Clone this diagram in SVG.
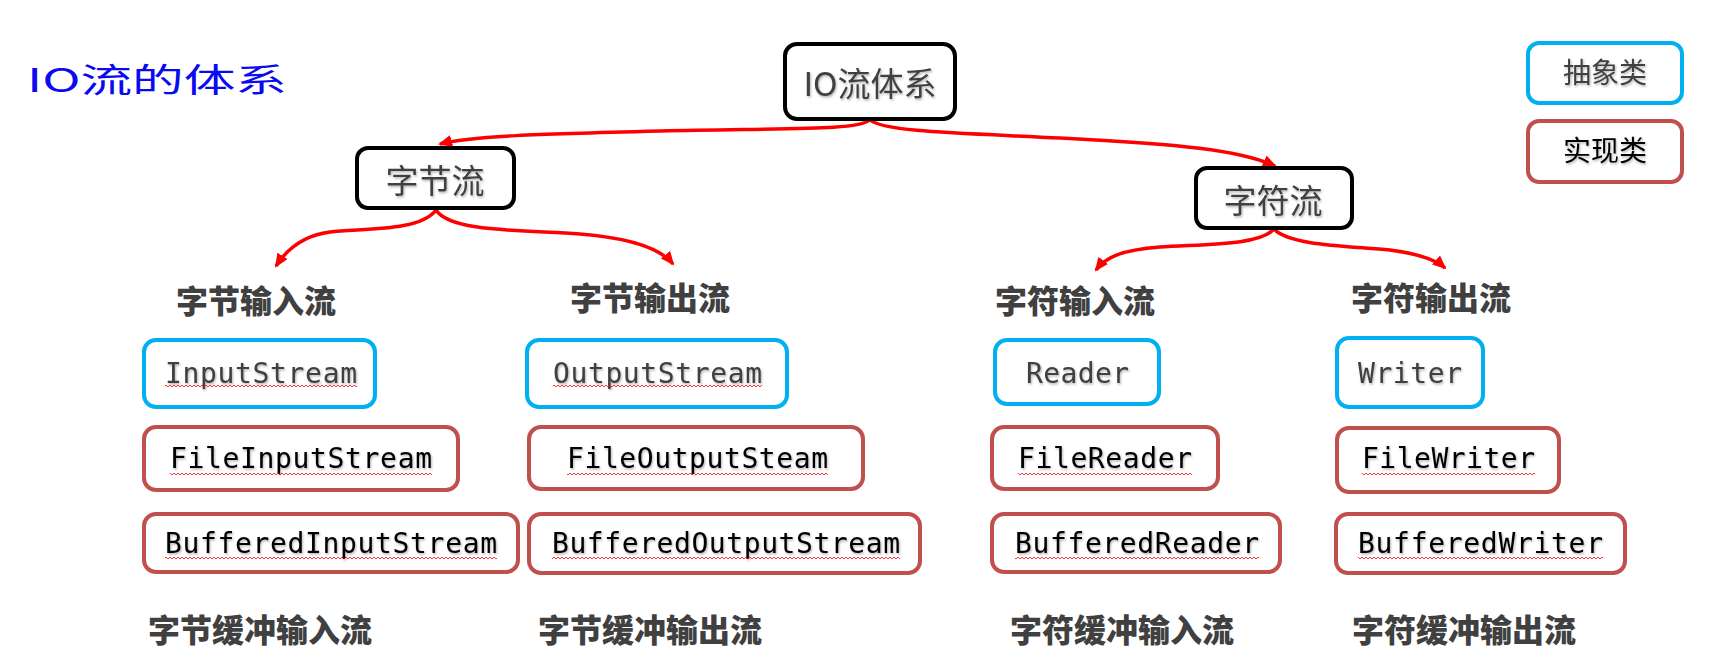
<svg xmlns="http://www.w3.org/2000/svg" width="1725" height="663" viewBox="0 0 1725 663">
<style>
.box{fill:#fff;stroke-width:4}
.blk{stroke:#000}
.abs{stroke:#00b0f0}
.imp{stroke:#c0504d}
.cjk{font-family:"Noto Sans CJK SC","Noto Sans",sans-serif}
.node{font-size:33px;fill:#404040;text-anchor:middle}
.leg{font-size:28px;fill:#404040;text-anchor:middle}
.lbl{font-size:32px;font-weight:900;fill:#404040;text-anchor:middle}
.mono{font-family:"DejaVu Sans Mono","Liberation Mono",monospace;font-size:28px}
.absT{fill:#404040}
.impT{fill:#000}
.conn{fill:none;stroke:#ff0000;stroke-width:3.5;marker-end:url(#arr)}
</style>
<defs>
<marker id="arr" markerUnits="userSpaceOnUse" markerWidth="14" markerHeight="12" refX="12" refY="6" orient="auto" viewBox="0 0 14 12">
<path d="M0,0 L14,6 L0,12 z" fill="#ff0000"/>
</marker>
<pattern id="sq" width="4" height="4" patternUnits="userSpaceOnUse">
<path d="M0,3 L2,1 L4,3" fill="none" stroke="#ff0000" stroke-width="0.8"/>
</pattern>
<filter id="sh" x="-10%" y="-10%" width="120%" height="130%">
<feDropShadow dx="1" dy="1.5" stdDeviation="1" flood-color="#000" flood-opacity="0.3"/>
</filter>
</defs>
<rect width="1725" height="663" fill="#fff"/>

<text id="title" x="27" y="92" class="cjk" font-size="33" fill="#0a0af0" textLength="260" lengthAdjust="spacingAndGlyphs">IO流的体系</text>

<g id="connectors">
<path class="conn" d="M870,120 C858,130 800,128 660,131 C540,134 470,136 440,144"/>
<path class="conn" d="M870,120 C885,132 960,133 1060,138 C1180,144 1240,150 1275,166"/>
<path class="conn" d="M436,210 C420,232 360,228 330,232 C300,236 285,252 276,266"/>
<path class="conn" d="M436,210 C450,232 520,230 580,234 C630,238 660,248 673,264"/>
<path class="conn" d="M1274,229 C1260,246 1200,244 1160,247 C1120,250 1105,258 1096,270"/>
<path class="conn" d="M1274,229 C1290,246 1350,246 1390,250 C1420,254 1436,260 1445,268"/>
</g>

<g id="root">
<rect class="box blk" x="785" y="44" width="170" height="75" rx="12"/>
<text class="cjk node" x="870" y="96" filter="url(#sh)">IO流体系</text>
</g>
<g id="byteStream">
<rect class="box blk" x="357" y="148" width="157" height="60" rx="11"/>
<text class="cjk node" x="435" y="193" filter="url(#sh)">字节流</text>
</g>
<g id="charStream">
<rect class="box blk" x="1196" y="168" width="156" height="60" rx="11"/>
<text class="cjk node" x="1273" y="213" filter="url(#sh)">字符流</text>
</g>

<g id="legendAbstract">
<rect class="box abs" x="1528" y="43" width="154" height="60" rx="11"/>
<text class="cjk leg" x="1605" y="83" filter="url(#sh)">抽象类</text>
</g>
<g id="legendImpl">
<rect class="box imp" x="1528" y="121" width="154" height="61" rx="11"/>
<text class="cjk leg" x="1605" y="161" style="fill:#000" filter="url(#sh)">实现类</text>
</g>

<g id="labels">
<text class="cjk lbl" x="256" y="313">字节输入流</text>
<text class="cjk lbl" x="650" y="310">字节输出流</text>
<text class="cjk lbl" x="1075" y="313">字符输入流</text>
<text class="cjk lbl" x="1431" y="310">字符输出流</text>
<text class="cjk lbl" x="260" y="642">字节缓冲输入流</text>
<text class="cjk lbl" x="650" y="642">字节缓冲输出流</text>
<text class="cjk lbl" x="1122" y="642">字符缓冲输入流</text>
<text class="cjk lbl" x="1464" y="642">字符缓冲输出流</text>
</g>

<g id="InputStream">
<rect class="box abs" x="144" y="340" width="231" height="67" rx="12"/>
<text class="mono absT" x="165" y="383" textLength="192" filter="url(#sh)">InputStream</text>
<rect x="165" y="384" width="192" height="4" fill="url(#sq)"/>
</g>
<g id="FileInputStream">
<rect class="box imp" x="144" y="427" width="314" height="63" rx="12"/>
<text class="mono impT" x="170" y="468" textLength="262" filter="url(#sh)">FileInputStream</text>
<rect x="170" y="472" width="262" height="4" fill="url(#sq)"/>
</g>
<g id="BufferedInputStream">
<rect class="box imp" x="144" y="514" width="374" height="58" rx="12"/>
<text class="mono impT" x="165" y="553" textLength="332" filter="url(#sh)">BufferedInputStream</text>
<rect x="165" y="556" width="332" height="4" fill="url(#sq)"/>
</g>

<g id="OutputStream">
<rect class="box abs" x="527" y="340" width="260" height="67" rx="12"/>
<text class="mono absT" x="553" y="383" textLength="209" filter="url(#sh)">OutputStream</text>
<rect x="553" y="384" width="209" height="4" fill="url(#sq)"/>
</g>
<g id="FileOutputSteam">
<rect class="box imp" x="529" y="427" width="334" height="62" rx="12"/>
<text class="mono impT" x="567" y="468" textLength="261" filter="url(#sh)">FileOutputSteam</text>
<rect x="567" y="472" width="261" height="4" fill="url(#sq)"/>
</g>
<g id="BufferedOutputStream">
<rect class="box imp" x="529" y="514" width="391" height="59" rx="12"/>
<text class="mono impT" x="552" y="553" textLength="348" filter="url(#sh)">BufferedOutputStream</text>
<rect x="552" y="556" width="348" height="4" fill="url(#sq)"/>
</g>

<g id="Reader">
<rect class="box abs" x="995" y="340" width="164" height="64" rx="12"/>
<text class="mono absT" x="1026" y="383" textLength="103" filter="url(#sh)">Reader</text>
</g>
<g id="FileReader">
<rect class="box imp" x="992" y="427" width="226" height="62" rx="12"/>
<text class="mono impT" x="1018" y="468" textLength="174" filter="url(#sh)">FileReader</text>
<rect x="1018" y="472" width="174" height="4" fill="url(#sq)"/>
</g>
<g id="BufferedReader">
<rect class="box imp" x="992" y="514" width="288" height="58" rx="12"/>
<text class="mono impT" x="1015" y="553" textLength="244" filter="url(#sh)">BufferedReader</text>
<rect x="1015" y="556" width="244" height="4" fill="url(#sq)"/>
</g>

<g id="Writer">
<rect class="box abs" x="1337" y="338" width="146" height="69" rx="12"/>
<text class="mono absT" x="1358" y="383" textLength="104" filter="url(#sh)">Writer</text>
</g>
<g id="FileWriter">
<rect class="box imp" x="1337" y="428" width="222" height="64" rx="12"/>
<text class="mono impT" x="1362" y="468" textLength="173" filter="url(#sh)">FileWriter</text>
<rect x="1362" y="472" width="173" height="4" fill="url(#sq)"/>
</g>
<g id="BufferedWriter">
<rect class="box imp" x="1336" y="514" width="289" height="59" rx="12"/>
<text class="mono impT" x="1358" y="553" textLength="245" filter="url(#sh)">BufferedWriter</text>
<rect x="1358" y="556" width="245" height="4" fill="url(#sq)"/>
</g>
</svg>
